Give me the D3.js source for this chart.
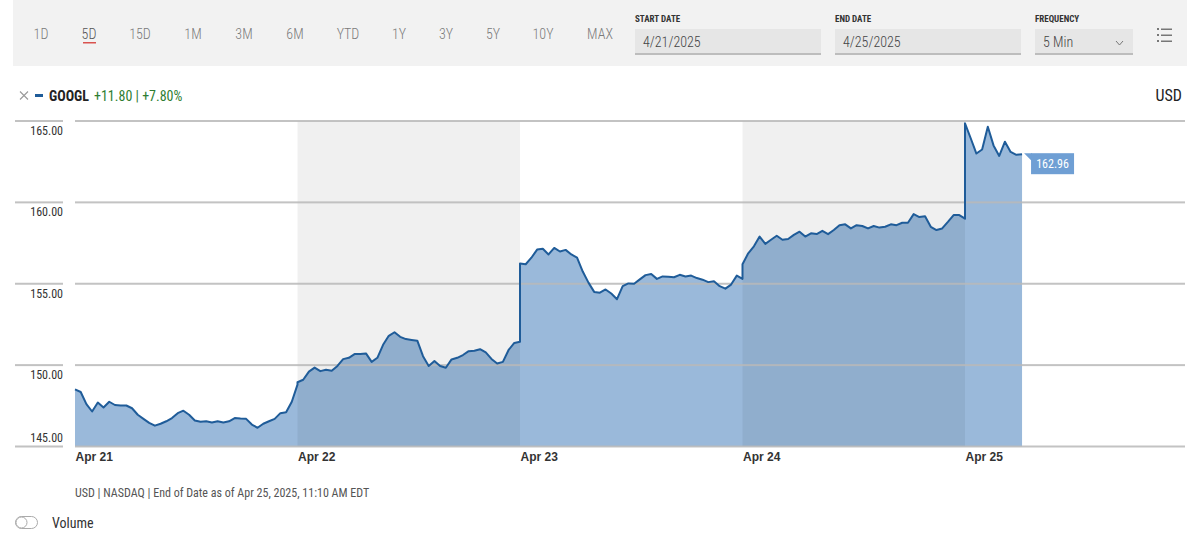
<!DOCTYPE html>
<html><head><meta charset="utf-8">
<script src="https://cdn.jsdelivr.net/npm/d3@7"></script>
<style>
html,body{margin:0;padding:0;background:#fff;}
svg{display:block;font-family:'Roboto Condensed','Liberation Sans Narrow','DejaVu Sans Condensed',Roboto,sans-serif;}
</style></head>
<body><svg id="c" width="1200" height="551"></svg>
<script>
// ---- data (10-minute samples, 9:30 onward) ----
const dayLabels = ["Apr 21","Apr 22","Apr 23","Apr 24","Apr 25"];
const apr21 = [148.51,148.35,147.6,147.15,147.7,147.4,147.75,147.55,147.52,147.52,147.35,146.95,146.7,146.45,146.28,146.4,146.55,146.75,147.05,147.2,146.95,146.6,146.52,146.55,146.48,146.55,146.48,146.55,146.75,146.72,146.7,146.35,146.15,146.4,146.55,146.7,147.05,147.1,147.75,148.8];
const apr22 = [148.95,149.1,149.6,149.85,149.63,149.72,149.65,149.95,150.37,150.45,150.68,150.68,150.72,150.2,150.45,151.25,151.8,152.02,151.74,151.6,151.55,151.5,150.55,149.95,150.25,149.95,149.84,150.35,150.45,150.62,150.86,150.88,150.98,150.78,150.38,150.1,150.2,150.93,151.36,151.44];
const apr23 = [156.25,156.2,156.6,157.1,157.15,156.8,157.2,156.98,157.08,156.8,156.6,155.75,155.07,154.5,154.45,154.65,154.4,154.05,154.85,155.02,155.0,155.27,155.53,155.6,155.3,155.45,155.43,155.4,155.55,155.45,155.5,155.35,155.25,155.1,155.15,154.85,154.7,154.95,155.5,155.3];
const apr24 = [156.2,156.87,157.3,157.9,157.45,157.7,157.95,157.7,157.75,158.0,158.2,157.9,158.1,158.05,158.25,158.05,158.3,158.6,158.65,158.4,158.6,158.55,158.4,158.55,158.45,158.5,158.65,158.6,158.75,158.75,159.28,159.1,159.15,158.5,158.3,158.4,158.8,159.22,159.22,159.0];
const apr25 = [164.86,163.94,163.0,163.25,164.65,163.5,162.85,163.73,163.1,162.92,162.96];
const yTicks = [145,150,155,160,165];
const ranges = ["1D","5D","15D","1M","3M","6M","YTD","1Y","3Y","5Y","10Y","MAX"];
const lastPrice = "162.96";
const changeText = "+11.80 | +7.80%";

const days = [apr21,apr22,apr23,apr24,apr25];
const data = [];
days.forEach((arr,d)=>arr.forEach((v,i)=>data.push({t:d+(i*10)/390, v})));

const svg = d3.select("#c");
const x = d3.scaleLinear().domain([0,5]).range([75,1187.5]);
const y = d3.scaleLinear().domain([145,165]).range([446.5,121]);

// ---- toolbar ----
svg.append("rect").attr("x",13).attr("y",0).attr("width",1174).attr("height",66).attr("fill","#f2f2f2");
const rx = [41,89,140,193,244,295,348,399,446,493,543,600];
ranges.forEach((r,i)=>{
  svg.append("text").attr("x",rx[i]).attr("y",39).attr("text-anchor","middle")
    .attr("font-size",14).attr("font-weight",300).attr("fill", r==="5D"?"#555":"#7a7a7a").text(r);
});
svg.append("rect").attr("x",83).attr("y",42).attr("width",13).attr("height",1.5).attr("fill","#d9534f");
const inputs = [{lab:"START DATE",val:"4/21/2025",x:635,w:186},{lab:"END DATE",val:"4/25/2025",x:835,w:186},{lab:"FREQUENCY",val:"5 Min",x:1035,w:98}];
inputs.forEach(o=>{
  svg.append("text").attr("x",o.x).attr("y",22).attr("font-size",9).attr("font-weight","bold").attr("fill","#333").text(o.lab);
  svg.append("rect").attr("x",o.x).attr("y",29).attr("width",o.w).attr("height",25).attr("fill","#e6e6e6");
  svg.append("rect").attr("x",o.x).attr("y",53).attr("width",o.w).attr("height",2).attr("fill","#bdbdbd");
  svg.append("text").attr("x",o.x+8).attr("y",47).attr("font-size",14).attr("font-weight",300).attr("fill","#444").text(o.val);
});
svg.append("path").attr("d","M1116,41 L1119.5,45 L1123,41").attr("fill","none").attr("stroke","#777").attr("stroke-width",1);
[29,35,41].forEach(yy=>{
  svg.append("rect").attr("x",1157).attr("y",yy-1).attr("width",2).attr("height",2).attr("fill","#777");
  svg.append("rect").attr("x",1161).attr("y",yy-0.5).attr("width",11).attr("height",1.5).attr("fill","#777");
});

// ---- legend ----
svg.append("path").attr("d","M20,91.5 L28,99.5 M28,91.5 L20,99.5").attr("stroke","#999").attr("stroke-width",1.1).attr("fill","none");
svg.append("rect").attr("x",35).attr("y",94).attr("width",8).attr("height",3).attr("fill","#1f5c99");
const lg = svg.append("text").attr("x",49).attr("y",101).attr("font-size",14);
lg.append("tspan").attr("font-weight","bold").attr("fill","#222").text("GOOGL");
lg.append("tspan").attr("dx",5).attr("fill","#2e7d32").text(changeText);
svg.append("text").attr("x",1182).attr("y",101).attr("text-anchor","end").attr("font-size",16).attr("fill","#222").text("USD");

// ---- plot ----
const area = d3.area().x(d=>x(d.t)).y0(y(145)).y1(d=>y(d.v));
const line = d3.line().x(d=>x(d.t)).y(d=>y(d.v));
svg.append("path").datum(data).attr("d",area).attr("fill","#9ab9da");
// alternating day bands
[1,3].forEach(d=>{
  svg.append("rect").attr("x",x(d)).attr("y",y(165)).attr("width",x(d+1)-x(d)).attr("height",y(145)-y(165))
    .attr("fill","#000").attr("fill-opacity",0.06);
});
// gridlines + labels
yTicks.forEach(t=>{
  svg.append("rect").attr("x",15).attr("y",y(t)-1).attr("width",48).attr("height",2).attr("fill","#c2c2c2");
  svg.append("rect").attr("x",75).attr("y",y(t)-1).attr("width",1110).attr("height",2).attr("fill","#b8b8b8").attr("fill-opacity",0.85);
  svg.append("text").attr("x",63).attr("y", t===145 ? y(t)-5 : y(t)+14).attr("text-anchor","end")
    .attr("font-size",12).attr("fill","#333").text(d3.format(".2f")(t));
});
svg.append("path").datum(data).attr("d",line).attr("fill","none").attr("stroke","#1f5c99").attr("stroke-width",2).attr("stroke-linejoin","round");

// x axis labels
const xAxis = d3.axisBottom(x).tickValues([0,1,2,3,4]).tickFormat(i=>dayLabels[i]).tickSize(0).tickPadding(0);
const gx = svg.append("g").attr("transform",`translate(0,${y(145)+2})`).call(xAxis);
gx.select(".domain").remove();
gx.selectAll("text").attr("text-anchor","start").attr("dy","0").attr("y",12).attr("font-size",12).attr("font-weight","bold")
  .attr("fill","#333").style("font-family","inherit");

// last value tag
const last = data[data.length-1];
const lx = x(last.t), ly = y(last.v);
svg.append("path").attr("d",`M${lx+2},${ly-1} L${lx+10},${ly-1} L${lx+10},${ly+7} Z`).attr("fill","#6f9fd4");
svg.append("rect").attr("x",lx+9).attr("y",ly-1).attr("width",43).attr("height",21).attr("fill","#6f9fd4");
svg.append("text").attr("x",lx+30.5).attr("y",ly+14).attr("text-anchor","middle").attr("font-size",12).attr("fill","#fff").text(lastPrice);

// footer
svg.append("text").attr("x",75).attr("y",497).attr("font-size",12).attr("fill","#555")
  .text("USD | NASDAQ | End of Date as of Apr 25, 2025, 11:10 AM EDT");
svg.append("rect").attr("x",15.5).attr("y",516.5).attr("width",22).attr("height",12).attr("rx",6).attr("fill","#fff").attr("stroke","#aaa");
svg.append("circle").attr("cx",21.5).attr("cy",522.5).attr("r",5.5).attr("fill","#fff").attr("stroke","#aaa");
svg.append("text").attr("x",52).attr("y",528).attr("font-size",14).attr("fill","#333").text("Volume");
</script></body></html>
